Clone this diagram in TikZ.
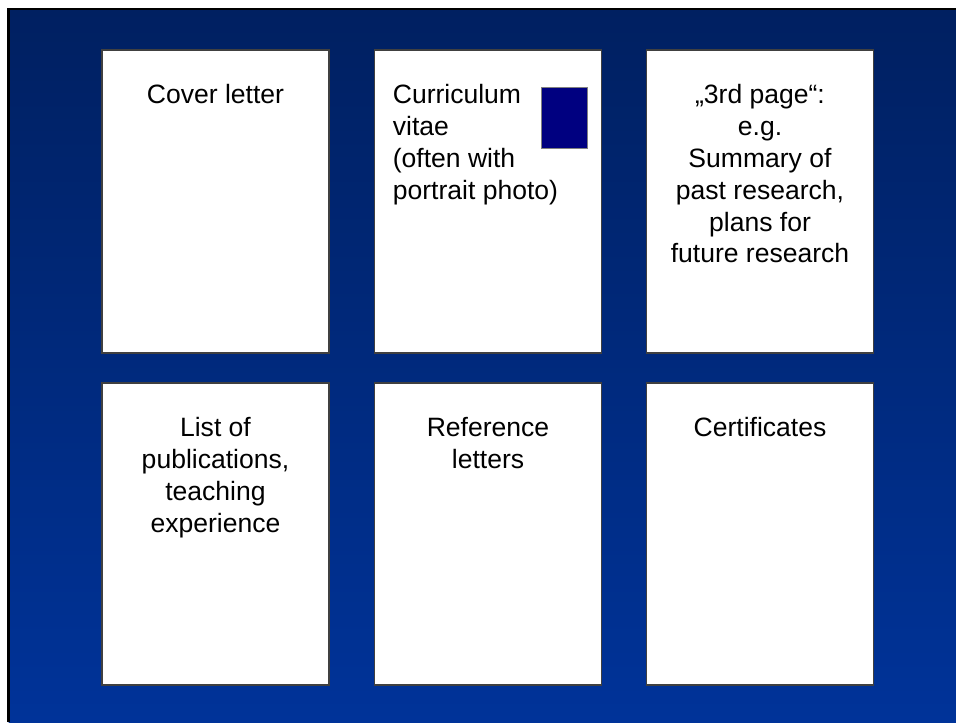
\documentclass[tikz,border=0pt]{standalone}
\usepackage{fontspec}
\setmainfont{Liberation Sans}
\usetikzlibrary{positioning}
\definecolor{slidetop}{rgb}{0,0.125,0.38}
\definecolor{slidebottom}{rgb}{0,0.2,0.6}
\definecolor{photoblue}{rgb}{0,0,0.5}
\definecolor{pageedge}{rgb}{0.25,0.25,0.25}
\tikzset{
  page box/.style={
    fill=white,
    draw=pageedge,
    line width=0.6pt,
    outer sep=0pt,
    inner sep=0pt,
    minimum width=4.54cm,
    minimum height=#1cm,
  },
  page text/.style={
    anchor=north,
    inner sep=0pt,
    align=center,
    font=\fontsize{15.1}{18.2}\selectfont,
  },
  photo/.style={
    fill=photoblue,
    draw=gray,
    line width=0.5pt,
    anchor=north west,
    minimum width=0.92cm,
    minimum height=1.22cm,
    inner sep=0pt,
  }
}

\begin{document}
\begin{tikzpicture}[node distance=0.91cm]
  \useasboundingbox (0,0) rectangle (19.12,-14.44);
  \shade[top color=slidetop, bottom color=slidebottom] (0.17,-0.18) rectangle (19.12,-14.44);
  \draw[line width=1.6pt] (0.17,-14.44) -- (0.17,-0.18) -- (19.12,-0.18);

  \node [page box=6.06, anchor=north west] (p1) at (2.04,-1.0) {};
  \node [page box=6.06, right=of p1] (p2) {};
  \node [page box=6.06, right=0.9cm of p2] (p3) {};
  \node [page box=6.04, below=0.6cm of p1] (p4) {};
  \node [page box=6.04, right=of p4] (p5) {};
  \node [page box=6.04, right=0.9cm of p5] (p6) {};

  \node [page text] (t1) at ([yshift=-0.67cm]p1.north) {Cover letter};
  \node [page text, anchor=north west, align=left] (t2)
    at ([xshift=0.36cm, yshift=-0.67cm]p2.north west)
    {Curriculum\\vitae\\(often with\\portrait photo)};
  \node [photo] (ph) at ([xshift=3.32cm, yshift=-0.74cm]p2.north west) {};
  \node [page text] (t3) at ([yshift=-0.67cm]p3.north)
    {„3rd page“:\\e.g.\\Summary of\\past research,\\plans for\\future research};
  \node [page text] (t4) at ([yshift=-0.67cm]p4.north)
    {List of\\publications,\\teaching\\experience};
  \node [page text] (t5) at ([yshift=-0.67cm]p5.north) {Reference\\letters};
  \node [page text] (t6) at ([yshift=-0.67cm]p6.north) {Certificates};
\end{tikzpicture}
\end{document}
